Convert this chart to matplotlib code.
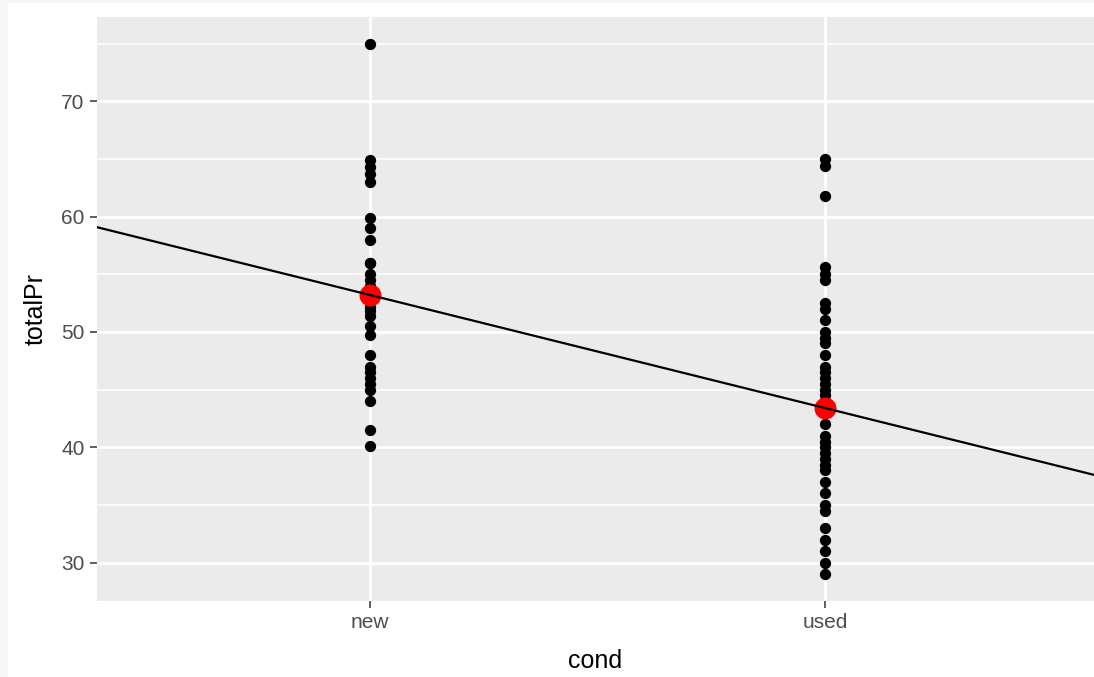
import matplotlib.pyplot as plt
from matplotlib.patches import Rectangle

plt.rcParams['font.family'] = ['Liberation Sans', 'DejaVu Sans']

cond_labels = ['new', 'used']
price_new = [75.0, 64.9, 64.3, 63.7, 63.0, 59.9, 59.0, 58.0, 56.0, 56.0, 55.0,
             54.5, 54.0, 53.5, 53.0, 52.2, 51.8, 51.4, 50.5, 49.7, 48.0, 47.0,
             46.5, 46.0, 45.5, 45.0, 44.0, 41.5, 40.1]
price_used = [65.0, 64.4, 61.8, 55.6, 55.0, 54.5, 52.5, 52.0, 51.0, 50.0, 49.5,
              49.0, 48.0, 47.0, 46.5, 46.0, 45.5, 45.0, 44.5, 44.0, 43.0, 42.0,
              41.0, 40.5, 40.0, 39.5, 39.0, 38.5, 38.0, 37.0, 36.0, 35.0, 34.5,
              33.0, 32.0, 31.0, 30.0, 29.0]
# group means (read from the red points)
group_means = [53.2, 43.4]

fig = plt.figure(figsize=(10.94, 6.77), dpi=100)
fig.patch.set_facecolor('#F7F7F7')
fig.patches.append(Rectangle((8 / 1094, 0), 1, 1 - 3 / 677, transform=fig.transFigure,
                             facecolor='white', edgecolor='none', zorder=-10))
ax = fig.add_axes([97 / 1094, 1 - 600.7 / 677, 1 - 97 / 1094, (600.7 - 17) / 677])
ax.set_facecolor('#EBEBEB')

ax.scatter([1] * len(price_new), price_new, s=66, color='black', zorder=3, linewidths=0)
ax.scatter([2] * len(price_used), price_used, s=66, color='black', zorder=3, linewidths=0)
ax.scatter([1, 2], group_means, s=250, color='red', zorder=4, linewidths=0)
ax.axline((1, group_means[0]), (2, group_means[1]), color='black', lw=1.6, zorder=5)

# panel is cut at the right edge of the image
ax.set_xlim(0.4, 2.591)
ax.set_ylim(26.7, 77.3)
ax.set_xticks([1, 2])
ax.set_xticklabels(cond_labels)
ax.set_yticks([30, 40, 50, 60, 70])
ax.set_yticks([35, 45, 55, 65, 75], minor=True)
ax.grid(True, which='major', color='white', lw=2.0, zorder=0)
ax.grid(True, which='minor', axis='y', color='white', lw=1.1, zorder=0)
ax.set_axisbelow(True)
for sp in ax.spines.values():
    sp.set_visible(False)
ax.tick_params(which='major', length=5, width=1.1, color='#333333', labelcolor='#4D4D4D',
               labelsize=15, pad=4)
ax.tick_params(which='minor', length=0)

ax.set_xlabel('cond', fontsize=18, color='black', labelpad=12)
ax.set_ylabel('totalPr', fontsize=18, color='black', labelpad=10)

fig.savefig('out.png', dpi=100)
